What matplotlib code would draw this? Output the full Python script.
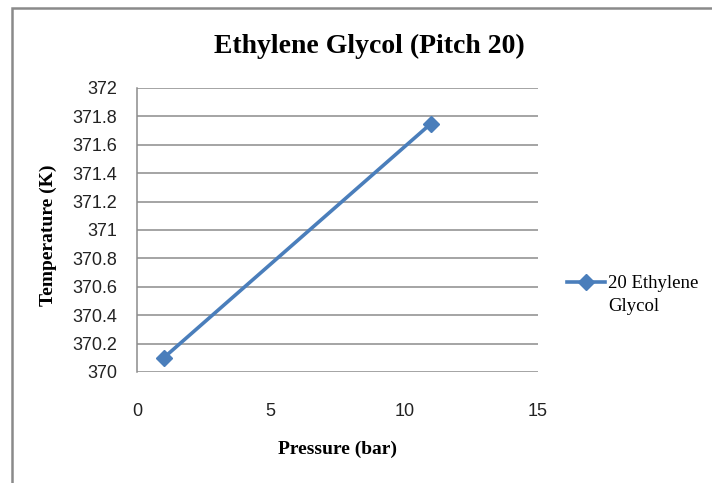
import matplotlib
matplotlib.use("Agg")
import matplotlib.pyplot as plt
from matplotlib.patches import Rectangle

pressure = [1, 11]
temperature = [370.1, 371.75]
series_label = "20 Ethylene\nGlycol"
title = "Ethylene Glycol (Pitch 20)"
xlabel = "Pressure (bar)"
ylabel = "Temperature (K)"
x_ticks = [0, 5, 10, 15]
y_ticks = [370, 370.2, 370.4, 370.6, 370.8, 371, 371.2, 371.4, 371.6, 371.8, 372]

serif = ["Liberation Serif", "DejaVu Serif"]
sans = ["Liberation Sans Narrow", "Liberation Sans", "DejaVu Sans"]
blue = "#4a7ebb"
grid_c = "#8c8c8c"

fig = plt.figure(figsize=(7.12, 4.83), dpi=100)

# chart frame
fig.patches.append(Rectangle((12 / 712, -0.05), 1.1, 1 - 8 / 483 + 0.05,
                             transform=fig.transFigure, fill=False,
                             edgecolor="#8a8a8a", linewidth=1.8))

ax = fig.add_axes([137 / 712, 1 - 372 / 483, (538 - 137) / 712, (372 - 88) / 483])
ax.plot(pressure, temperature, color=blue, linewidth=2.6, marker="D",
        markersize=8, markerfacecolor=blue, markeredgecolor=blue,
        label=series_label)

ax.set_xlim(0, 15)
ax.set_ylim(370, 372)
ax.set_xticks(x_ticks)
ax.set_yticks(y_ticks)
ax.set_xticklabels([str(v) for v in x_ticks])
ax.set_yticklabels([f"{v:g}" for v in y_ticks])
ax.yaxis.grid(True, color=grid_c, linewidth=1.1)
ax.set_axisbelow(True)
for s in ["top", "right", "bottom"]:
    ax.spines[s].set_visible(False)
ax.spines["left"].set_color(grid_c)
ax.spines["left"].set_linewidth(1.1)
ax.tick_params(axis="both", length=0, labelsize=13, labelcolor="#222222")
ax.tick_params(axis="x", pad=22)
ax.tick_params(axis="y", pad=14)
for lab in ax.get_xticklabels() + ax.get_yticklabels():
    lab.set_family(sans)

ax.set_xlabel(xlabel, fontsize=14, fontweight="bold", family=serif, labelpad=15)
ax.set_ylabel(ylabel, fontsize=14, fontweight="bold", family=serif)
ax.yaxis.set_label_coords(-0.2, 0.48)

fig.text(369 / 712, 1 - 46 / 483, title, ha="center", va="center",
         fontsize=20, fontweight="bold", family=serif)

leg = ax.legend(loc="upper left", bbox_to_anchor=(567 / 712, 1 - 275 / 483),
                bbox_transform=fig.transFigure, frameon=False,
                prop={"family": serif, "size": 13.5}, handlelength=2.0,
                handletextpad=0.2, borderaxespad=0, borderpad=0)
# keep the legend key level with the first line of its label
for column in leg._legend_handle_box.get_children():
    for item in column.get_children():
        item.align = "top"
for txt in leg.get_texts():
    txt.set_linespacing(1.45)

fig.savefig("out.png", dpi=100)
